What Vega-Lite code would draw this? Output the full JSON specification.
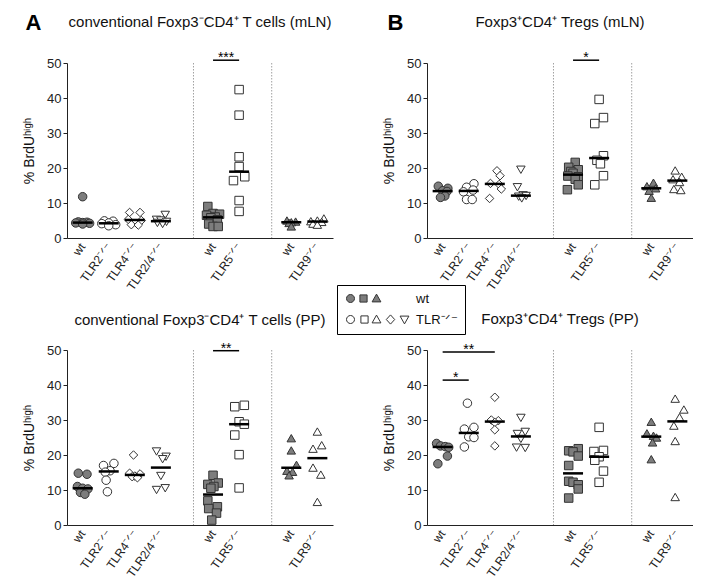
{
"$schema": "https://vega.github.io/schema/vega-lite/v6.json",
"background": "white",
"padding": {"left": 22, "top": 11, "right": 0, "bottom": 0},
"config": {
  "font": "Liberation Sans",
  "view": {"stroke": null},
  "title": {"fontSize": 15, "fontWeight": "normal", "color": "#111", "anchor": "middle"},
  "axisY": {"tickCount": 6, "labelOverlap": false, "labelFontSize": 13, "labelColor": "#222", "tickSize": 4, "tickColor": "#222", "domainColor": "#222", "labelPadding": 2, "grid": false}
},
"datasets": {
  "seps": [{"g": "gap1"}, {"g": "gap2"}],
  "sig": [
    {"p": "A", "from": "wt2", "to": "TLR5", "y": 50.8, "lab": "***"},
    {"p": "B", "from": "wt2", "to": "TLR5", "y": 50.8, "lab": "*"},
    {"p": "C", "from": "wt2", "to": "TLR5", "y": 49.8, "lab": "**"},
    {"p": "D", "from": "wt1", "to": "TLR2", "y": 41.4, "lab": "*"},
    {"p": "D", "from": "wt1", "to": "TLR4", "y": 49.4, "lab": "**"}
  ],
  "pts": [
    {"p":"A","g":"wt1","gt":"wt","v":11.8,"j":0},{"p":"A","g":"wt1","gt":"wt","v":4.6,"j":-1},{"p":"A","g":"wt1","gt":"wt","v":4.5,"j":1},{"p":"A","g":"wt1","gt":"wt","v":4.4,"j":0},{"p":"A","g":"wt1","gt":"wt","v":4.3,"j":-1.6},{"p":"A","g":"wt1","gt":"wt","v":4.2,"j":1.6},{"p":"A","g":"wt1","gt":"wt","v":4.0,"j":0},
    {"p":"A","g":"TLR2","gt":"TLR","v":4.9,"j":-1},{"p":"A","g":"TLR2","gt":"TLR","v":4.8,"j":1},{"p":"A","g":"TLR2","gt":"TLR","v":4.3,"j":0},{"p":"A","g":"TLR2","gt":"TLR","v":4.1,"j":-1.6},{"p":"A","g":"TLR2","gt":"TLR","v":3.8,"j":1.6},{"p":"A","g":"TLR2","gt":"TLR","v":3.5,"j":0},
    {"p":"A","g":"TLR4","gt":"TLR","v":7.3,"j":-1.2},{"p":"A","g":"TLR4","gt":"TLR","v":7.3,"j":1.2},{"p":"A","g":"TLR4","gt":"TLR","v":5.3,"j":-1.5},{"p":"A","g":"TLR4","gt":"TLR","v":5.0,"j":1.5},{"p":"A","g":"TLR4","gt":"TLR","v":3.8,"j":-0.8},{"p":"A","g":"TLR4","gt":"TLR","v":3.7,"j":0.8},
    {"p":"A","g":"TLR24","gt":"TLR","v":6.6,"j":1},{"p":"A","g":"TLR24","gt":"TLR","v":5.2,"j":-1},{"p":"A","g":"TLR24","gt":"TLR","v":5.0,"j":0},{"p":"A","g":"TLR24","gt":"TLR","v":4.6,"j":1.3},{"p":"A","g":"TLR24","gt":"TLR","v":4.3,"j":-0.8},{"p":"A","g":"TLR24","gt":"TLR","v":4.0,"j":0.4},
    {"p":"A","g":"wt2","gt":"wt","v":9.0,"j":-1.2},{"p":"A","g":"wt2","gt":"wt","v":7.0,"j":0},{"p":"A","g":"wt2","gt":"wt","v":6.8,"j":1.5},{"p":"A","g":"wt2","gt":"wt","v":6.5,"j":-1.5},{"p":"A","g":"wt2","gt":"wt","v":6.0,"j":0.5},{"p":"A","g":"wt2","gt":"wt","v":5.8,"j":-0.5},{"p":"A","g":"wt2","gt":"wt","v":5.2,"j":1},{"p":"A","g":"wt2","gt":"wt","v":4.0,"j":-1},{"p":"A","g":"wt2","gt":"wt","v":3.3,"j":0},{"p":"A","g":"wt2","gt":"wt","v":3.3,"j":1.2},
    {"p":"A","g":"TLR5","gt":"TLR","v":42.4,"j":0},{"p":"A","g":"TLR5","gt":"TLR","v":35.1,"j":0},{"p":"A","g":"TLR5","gt":"TLR","v":23.2,"j":0},{"p":"A","g":"TLR5","gt":"TLR","v":20.4,"j":0},{"p":"A","g":"TLR5","gt":"TLR","v":17.5,"j":1.3},{"p":"A","g":"TLR5","gt":"TLR","v":16.4,"j":-1.3},{"p":"A","g":"TLR5","gt":"TLR","v":10.7,"j":0},{"p":"A","g":"TLR5","gt":"TLR","v":7.6,"j":0},
    {"p":"A","g":"wt3","gt":"wt","v":5.0,"j":-1},{"p":"A","g":"wt3","gt":"wt","v":4.7,"j":1},{"p":"A","g":"wt3","gt":"wt","v":4.5,"j":0},{"p":"A","g":"wt3","gt":"wt","v":4.3,"j":-0.5},{"p":"A","g":"wt3","gt":"wt","v":3.3,"j":0},
    {"p":"A","g":"TLR9","gt":"TLR","v":5.6,"j":1.5},{"p":"A","g":"TLR9","gt":"TLR","v":5.0,"j":0},{"p":"A","g":"TLR9","gt":"TLR","v":4.8,"j":-1.5},{"p":"A","g":"TLR9","gt":"TLR","v":4.6,"j":1},{"p":"A","g":"TLR9","gt":"TLR","v":4.1,"j":-1},{"p":"A","g":"TLR9","gt":"TLR","v":3.8,"j":0},

    {"p":"B","g":"wt1","gt":"wt","v":14.8,"j":-1},{"p":"B","g":"wt1","gt":"wt","v":14.2,"j":1.2},{"p":"B","g":"wt1","gt":"wt","v":13.5,"j":0},{"p":"B","g":"wt1","gt":"wt","v":13.3,"j":1},{"p":"B","g":"wt1","gt":"wt","v":12.0,"j":0.5},{"p":"B","g":"wt1","gt":"wt","v":11.6,"j":-0.5},
    {"p":"B","g":"TLR2","gt":"TLR","v":15.5,"j":1.2},{"p":"B","g":"TLR2","gt":"TLR","v":14.5,"j":-0.5},{"p":"B","g":"TLR2","gt":"TLR","v":13.7,"j":1},{"p":"B","g":"TLR2","gt":"TLR","v":13.2,"j":-1.2},{"p":"B","g":"TLR2","gt":"TLR","v":11.0,"j":-0.5},{"p":"B","g":"TLR2","gt":"TLR","v":11.0,"j":0.8},
    {"p":"B","g":"TLR4","gt":"TLR","v":19.2,"j":0.5},{"p":"B","g":"TLR4","gt":"TLR","v":17.8,"j":1.2},{"p":"B","g":"TLR4","gt":"TLR","v":15.6,"j":-1},{"p":"B","g":"TLR4","gt":"TLR","v":15.3,"j":1},{"p":"B","g":"TLR4","gt":"TLR","v":14.0,"j":1.5},{"p":"B","g":"TLR4","gt":"TLR","v":11.3,"j":-1.2},
    {"p":"B","g":"TLR24","gt":"TLR","v":19.5,"j":0},{"p":"B","g":"TLR24","gt":"TLR","v":14.5,"j":-0.8},{"p":"B","g":"TLR24","gt":"TLR","v":12.2,"j":0.5},{"p":"B","g":"TLR24","gt":"TLR","v":12.0,"j":1.2},{"p":"B","g":"TLR24","gt":"TLR","v":11.8,"j":-0.5},{"p":"B","g":"TLR24","gt":"TLR","v":11.3,"j":0.2},
    {"p":"B","g":"wt2","gt":"wt","v":21.6,"j":0.5},{"p":"B","g":"wt2","gt":"wt","v":20.2,"j":-1},{"p":"B","g":"wt2","gt":"wt","v":19.5,"j":1.2},{"p":"B","g":"wt2","gt":"wt","v":19.0,"j":-0.5},{"p":"B","g":"wt2","gt":"wt","v":18.5,"j":0},{"p":"B","g":"wt2","gt":"wt","v":17.7,"j":-1.2},{"p":"B","g":"wt2","gt":"wt","v":17.5,"j":1.2},{"p":"B","g":"wt2","gt":"wt","v":16.8,"j":0.5},{"p":"B","g":"wt2","gt":"wt","v":15.2,"j":1.2},{"p":"B","g":"wt2","gt":"wt","v":13.8,"j":-1.3},
    {"p":"B","g":"TLR5","gt":"TLR","v":39.6,"j":0},{"p":"B","g":"TLR5","gt":"TLR","v":34.4,"j":1},{"p":"B","g":"TLR5","gt":"TLR","v":32.7,"j":-1},{"p":"B","g":"TLR5","gt":"TLR","v":23.5,"j":1},{"p":"B","g":"TLR5","gt":"TLR","v":22.2,"j":-0.5},{"p":"B","g":"TLR5","gt":"TLR","v":21.2,"j":0.3},{"p":"B","g":"TLR5","gt":"TLR","v":17.8,"j":1},{"p":"B","g":"TLR5","gt":"TLR","v":15.2,"j":-1},
    {"p":"B","g":"wt3","gt":"wt","v":15.8,"j":0.5},{"p":"B","g":"wt3","gt":"wt","v":14.8,"j":-1},{"p":"B","g":"wt3","gt":"wt","v":14.2,"j":1},{"p":"B","g":"wt3","gt":"wt","v":13.5,"j":-0.5},{"p":"B","g":"wt3","gt":"wt","v":11.5,"j":0},
    {"p":"B","g":"TLR9","gt":"TLR","v":19.3,"j":-0.5},{"p":"B","g":"TLR9","gt":"TLR","v":17.5,"j":1},{"p":"B","g":"TLR9","gt":"TLR","v":16.8,"j":-1},{"p":"B","g":"TLR9","gt":"TLR","v":16.0,"j":0.5},{"p":"B","g":"TLR9","gt":"TLR","v":14.0,"j":-0.8},{"p":"B","g":"TLR9","gt":"TLR","v":13.7,"j":0.8},

    {"p":"C","g":"wt1","gt":"wt","v":14.8,"j":-1},{"p":"C","g":"wt1","gt":"wt","v":14.5,"j":1},{"p":"C","g":"wt1","gt":"wt","v":11.0,"j":-1.2},{"p":"C","g":"wt1","gt":"wt","v":10.5,"j":0},{"p":"C","g":"wt1","gt":"wt","v":10.3,"j":1.2},{"p":"C","g":"wt1","gt":"wt","v":9.3,"j":-0.5},{"p":"C","g":"wt1","gt":"wt","v":8.8,"j":0.5},
    {"p":"C","g":"TLR2","gt":"TLR","v":17.6,"j":1.2},{"p":"C","g":"TLR2","gt":"TLR","v":17.0,"j":-1.2},{"p":"C","g":"TLR2","gt":"TLR","v":15.5,"j":0.3},{"p":"C","g":"TLR2","gt":"TLR","v":15.1,"j":-0.8},{"p":"C","g":"TLR2","gt":"TLR","v":12.8,"j":-0.6},{"p":"C","g":"TLR2","gt":"TLR","v":9.5,"j":-0.3},
    {"p":"C","g":"TLR4","gt":"TLR","v":20.0,"j":-0.3},{"p":"C","g":"TLR4","gt":"TLR","v":14.8,"j":-1.2},{"p":"C","g":"TLR4","gt":"TLR","v":14.6,"j":1.2},{"p":"C","g":"TLR4","gt":"TLR","v":14.0,"j":0},{"p":"C","g":"TLR4","gt":"TLR","v":13.8,"j":-0.6},{"p":"C","g":"TLR4","gt":"TLR","v":13.5,"j":0.6},
    {"p":"C","g":"TLR24","gt":"TLR","v":21.0,"j":-1},{"p":"C","g":"TLR24","gt":"TLR","v":19.5,"j":1.2},{"p":"C","g":"TLR24","gt":"TLR","v":18.8,"j":0.4},{"p":"C","g":"TLR24","gt":"TLR","v":14.0,"j":0},{"p":"C","g":"TLR24","gt":"TLR","v":10.5,"j":1},{"p":"C","g":"TLR24","gt":"TLR","v":10.0,"j":-1},
    {"p":"C","g":"wt2","gt":"wt","v":14.2,"j":0},{"p":"C","g":"wt2","gt":"wt","v":12.0,"j":1.2},{"p":"C","g":"wt2","gt":"wt","v":11.6,"j":-1.2},{"p":"C","g":"wt2","gt":"wt","v":11.0,"j":0.2},{"p":"C","g":"wt2","gt":"wt","v":10.5,"j":-0.5},{"p":"C","g":"wt2","gt":"wt","v":6.9,"j":-1.2},{"p":"C","g":"wt2","gt":"wt","v":5.2,"j":1},{"p":"C","g":"wt2","gt":"wt","v":4.7,"j":-1},{"p":"C","g":"wt2","gt":"wt","v":3.4,"j":0.8},{"p":"C","g":"wt2","gt":"wt","v":1.4,"j":-0.3},
    {"p":"C","g":"TLR5","gt":"TLR","v":34.2,"j":1.2},{"p":"C","g":"TLR5","gt":"TLR","v":33.8,"j":-1},{"p":"C","g":"TLR5","gt":"TLR","v":29.5,"j":0},{"p":"C","g":"TLR5","gt":"TLR","v":28.8,"j":1.2},{"p":"C","g":"TLR5","gt":"TLR","v":25.7,"j":-1},{"p":"C","g":"TLR5","gt":"TLR","v":20.1,"j":0},{"p":"C","g":"TLR5","gt":"TLR","v":10.6,"j":0},
    {"p":"C","g":"wt3","gt":"wt","v":24.8,"j":0},{"p":"C","g":"wt3","gt":"wt","v":21.3,"j":0},{"p":"C","g":"wt3","gt":"wt","v":17.2,"j":1.2},{"p":"C","g":"wt3","gt":"wt","v":15.5,"j":-1},{"p":"C","g":"wt3","gt":"wt","v":15.2,"j":0.3},{"p":"C","g":"wt3","gt":"wt","v":14.2,"j":-0.5},
    {"p":"C","g":"TLR9","gt":"TLR","v":26.7,"j":0},{"p":"C","g":"TLR9","gt":"TLR","v":22.8,"j":1},{"p":"C","g":"TLR9","gt":"TLR","v":21.8,"j":-1},{"p":"C","g":"TLR9","gt":"TLR","v":16.4,"j":-1},{"p":"C","g":"TLR9","gt":"TLR","v":14.4,"j":0.8},{"p":"C","g":"TLR9","gt":"TLR","v":6.6,"j":0},

    {"p":"D","g":"wt1","gt":"wt","v":23.3,"j":-1.4},{"p":"D","g":"wt1","gt":"wt","v":22.6,"j":-0.5},{"p":"D","g":"wt1","gt":"wt","v":22.4,"j":0.6},{"p":"D","g":"wt1","gt":"wt","v":22.2,"j":1.4},{"p":"D","g":"wt1","gt":"wt","v":19.7,"j":1.1},{"p":"D","g":"wt1","gt":"wt","v":17.5,"j":-1.1},
    {"p":"D","g":"TLR2","gt":"TLR","v":34.8,"j":-0.3},{"p":"D","g":"TLR2","gt":"TLR","v":27.9,"j":1.2},{"p":"D","g":"TLR2","gt":"TLR","v":27.4,"j":-1},{"p":"D","g":"TLR2","gt":"TLR","v":25.2,"j":0},{"p":"D","g":"TLR2","gt":"TLR","v":25.0,"j":1.2},{"p":"D","g":"TLR2","gt":"TLR","v":22.3,"j":-1},
    {"p":"D","g":"TLR4","gt":"TLR","v":36.5,"j":0},{"p":"D","g":"TLR4","gt":"TLR","v":30.0,"j":-0.8},{"p":"D","g":"TLR4","gt":"TLR","v":29.8,"j":0.8},{"p":"D","g":"TLR4","gt":"TLR","v":29.3,"j":0},{"p":"D","g":"TLR4","gt":"TLR","v":27.2,"j":0},{"p":"D","g":"TLR4","gt":"TLR","v":22.6,"j":0},
    {"p":"D","g":"TLR24","gt":"TLR","v":30.6,"j":0},{"p":"D","g":"TLR24","gt":"TLR","v":26.6,"j":1},{"p":"D","g":"TLR24","gt":"TLR","v":26.0,"j":-0.8},{"p":"D","g":"TLR24","gt":"TLR","v":24.6,"j":0},{"p":"D","g":"TLR24","gt":"TLR","v":22.1,"j":-1},{"p":"D","g":"TLR24","gt":"TLR","v":22.0,"j":1},
    {"p":"D","g":"wt2","gt":"wt","v":21.8,"j":1.2},{"p":"D","g":"wt2","gt":"wt","v":21.2,"j":-1},{"p":"D","g":"wt2","gt":"wt","v":20.9,"j":0},{"p":"D","g":"wt2","gt":"wt","v":19.7,"j":1.2},{"p":"D","g":"wt2","gt":"wt","v":17.0,"j":-1},{"p":"D","g":"wt2","gt":"wt","v":12.5,"j":-1},{"p":"D","g":"wt2","gt":"wt","v":12.2,"j":0},{"p":"D","g":"wt2","gt":"wt","v":11.5,"j":1.2},{"p":"D","g":"wt2","gt":"wt","v":10.3,"j":1.2},{"p":"D","g":"wt2","gt":"wt","v":7.7,"j":-1},
    {"p":"D","g":"TLR5","gt":"TLR","v":27.9,"j":0},{"p":"D","g":"TLR5","gt":"TLR","v":21.3,"j":1},{"p":"D","g":"TLR5","gt":"TLR","v":21.0,"j":-1.2},{"p":"D","g":"TLR5","gt":"TLR","v":19.5,"j":0},{"p":"D","g":"TLR5","gt":"TLR","v":18.5,"j":-1},{"p":"D","g":"TLR5","gt":"TLR","v":15.4,"j":1},{"p":"D","g":"TLR5","gt":"TLR","v":12.2,"j":0},
    {"p":"D","g":"wt3","gt":"wt","v":29.5,"j":0},{"p":"D","g":"wt3","gt":"wt","v":26.2,"j":-1},{"p":"D","g":"wt3","gt":"wt","v":25.5,"j":0.5},{"p":"D","g":"wt3","gt":"wt","v":25.0,"j":1.2},{"p":"D","g":"wt3","gt":"wt","v":23.6,"j":0.3},{"p":"D","g":"wt3","gt":"wt","v":18.8,"j":0},
    {"p":"D","g":"TLR9","gt":"TLR","v":36.1,"j":-0.5},{"p":"D","g":"TLR9","gt":"TLR","v":33.0,"j":1.5},{"p":"D","g":"TLR9","gt":"TLR","v":30.8,"j":0.5},{"p":"D","g":"TLR9","gt":"TLR","v":28.4,"j":-0.8},{"p":"D","g":"TLR9","gt":"TLR","v":24.0,"j":-0.5},{"p":"D","g":"TLR9","gt":"TLR","v":8.0,"j":-0.5}
  ]
},
"columns": 2,
"spacing": {"row": 112, "column": 94},
"bounds": "flush",
"resolve": {"scale": {"fill": "independent", "shape": "independent"}},
"concat": [
  {
    "width": 266, "height": 175,
    "title": {"text": "conventional Foxp3⁻CD4⁺ T cells (mLN)", "offset": -19},
    "layer": [
      {"data": {"name": "seps"}, "mark": {"type": "rule", "color": "#a0a0a0", "strokeDash": [1.5, 1.5], "strokeWidth": 1},
       "encoding": {"x": {"field": "g", "type": "nominal", "bandPosition": 0.75, "scale": {"domain": ["wt1","TLR2","TLR4","TLR24","gap1","wt2","TLR5","gap2","wt3","TLR9"], "paddingInner": 0, "paddingOuter": 0.1},
          "axis": {"orient": "top", "domain": false, "ticks": false, "labels": false, "title": "A", "titleFontSize": 22, "titleFontWeight": "bold", "titleColor": "#000", "titleAnchor": "start", "titleAlign": "left", "titleBaseline": "middle", "titleX": -42, "titleY": -41, "titleAngle": 0}}}},
      {"data": {"name": "pts"}, "transform": [{"filter": "datum.p === 'A'"}],
       "mark": {"type": "point", "filled": true, "size": 72, "stroke": "#333", "strokeWidth": 1, "opacity": 1},
       "encoding": {
         "x": {"field": "g", "type": "nominal", "scale": {"domain": ["wt1","TLR2","TLR4","TLR24","gap1","wt2","TLR5","gap2","wt3","TLR9"], "paddingInner": 0, "paddingOuter": 0.1},
           "axis": {"orient": "bottom", "title": null, "labelAngle": -55, "labelAlign": "right", "labelBaseline": "middle", "ticks": false, "labelPadding": 6, "labelFontSize": 12, "labelColor": "#222", "domainColor": "#222", "labelOverlap": false, "labelBound": false,
             "labelExpr": "datum.value === 'TLR24' ? 'TLR2/4⁻ᐟ⁻' : (slice(datum.value, 0, 2) === 'wt' ? 'wt' : (slice(datum.value, 0, 3) === 'gap' ? '' : datum.value + '⁻ᐟ⁻'))"}},
         "xOffset": {"field": "j", "type": "quantitative", "scale": {"domain": [-3, 3]}},
         "y": {"field": "v", "type": "quantitative", "scale": {"domain": [0, 50], "nice": false},
           "axis": {"title": "% BrdUʰⁱᵍʰ", "values": [0, 10, 20, 30, 40, 50], "labelOverlap": false, "labelFontSize": 13, "titleFontSize": 14, "titleFontWeight": "normal", "titleColor": "#111", "titlePadding": 10}},
         "shape": {"field": "g", "type": "nominal", "legend": null, "scale": {"domain": ["wt1","TLR2","TLR4","TLR24","wt2","TLR5","wt3","TLR9"], "range": ["circle","circle","diamond","triangle-down","square","square","triangle-up","triangle-up"]}},
         "fill": {"field": "gt", "type": "nominal", "scale": {"domain": ["wt", "TLR"], "range": ["#7d7d7d", "#ffffff"]},
           "legend": {"orient": "none", "legendX": 270, "legendY": 222, "title": null, "strokeColor": "#000", "padding": 7, "rowPadding": 6, "labelFontSize": 13, "labelColor": "#111", "labelOffset": 59, "symbolSize": 64, "symbolStrokeColor": "#333", "symbolStrokeWidth": 1,
             "symbolType": {"expr": "datum.value === 'wt' ? 'M-1,0A1,1,0,1,1,1,0A1,1,0,1,1,-1,0ZM2.35,-0.9H4.15V0.9H2.35ZM6.5,-1.1L7.6,0.85L5.4,0.85Z' : 'M-1,0A1,1,0,1,1,1,0A1,1,0,1,1,-1,0ZM2.6,-0.9H4.4V0.9H2.6ZM6.5,-1.1L7.6,0.85L5.4,0.85ZM10,-1.15L11.05,0L10,1.15L8.95,0ZM12.4,-0.85L14.6,-0.85L13.5,1.1Z'"},
             "labelExpr": "datum.value === 'wt' ? 'wt' : 'TLR⁻ᐟ⁻'"}}
       }},
      {"data": {"name": "pts"}, "transform": [{"filter": "datum.p === 'A'"}],
       "mark": {"type": "tick", "color": "#000", "thickness": 2.5, "size": 20, "opacity": 1},
       "encoding": {
         "x": {"field": "g", "type": "nominal", "scale": {"domain": ["wt1","TLR2","TLR4","TLR24","gap1","wt2","TLR5","gap2","wt3","TLR9"], "paddingInner": 0, "paddingOuter": 0.1}, "axis": null},
         "y": {"aggregate": "median", "field": "v", "type": "quantitative"}}},
      {"data": {"name": "sig"}, "transform": [{"filter": "datum.p === 'A'"}],
       "mark": {"type": "rule", "color": "#000", "strokeWidth": 1.5},
       "encoding": {
         "x": {"field": "from", "type": "nominal", "bandPosition": 0.5, "axis": null},
         "x2": {"field": "to", "bandPosition": 0.5},
         "y": {"field": "y", "type": "quantitative"}}},
      {"data": {"name": "sig"}, "transform": [{"filter": "datum.p === 'A'"}],
       "mark": {"type": "text", "fontSize": 14, "baseline": "alphabetic", "dy": 2, "color": "#000"},
       "encoding": {
         "x": {"field": "to", "type": "nominal", "bandPosition": 0, "axis": null},
         "y": {"field": "y", "type": "quantitative"},
         "text": {"field": "lab"}}}
    ]
  },
  {
    "width": 266, "height": 175,
    "title": {"text": "Foxp3⁺CD4⁺ Tregs (mLN)", "offset": -19},
    "layer": [
      {"data": {"name": "seps"}, "mark": {"type": "rule", "color": "#a0a0a0", "strokeDash": [1.5, 1.5], "strokeWidth": 1},
       "encoding": {"x": {"field": "g", "type": "nominal", "bandPosition": 0.75, "scale": {"domain": ["wt1","TLR2","TLR4","TLR24","gap1","wt2","TLR5","gap2","wt3","TLR9"], "paddingInner": 0, "paddingOuter": 0.1},
          "axis": {"orient": "top", "domain": false, "ticks": false, "labels": false, "title": "B", "titleFontSize": 22, "titleFontWeight": "bold", "titleColor": "#000", "titleAnchor": "start", "titleAlign": "left", "titleBaseline": "middle", "titleX": -40, "titleY": -41, "titleAngle": 0}}}},
      {"data": {"name": "pts"}, "transform": [{"filter": "datum.p === 'B'"}],
       "mark": {"type": "point", "filled": true, "size": 72, "stroke": "#333", "strokeWidth": 1, "opacity": 1},
       "encoding": {
         "x": {"field": "g", "type": "nominal", "scale": {"domain": ["wt1","TLR2","TLR4","TLR24","gap1","wt2","TLR5","gap2","wt3","TLR9"], "paddingInner": 0, "paddingOuter": 0.1},
           "axis": {"orient": "bottom", "title": null, "labelAngle": -55, "labelAlign": "right", "labelBaseline": "middle", "ticks": false, "labelPadding": 6, "labelFontSize": 12, "labelColor": "#222", "domainColor": "#222", "labelOverlap": false, "labelBound": false,
             "labelExpr": "datum.value === 'TLR24' ? 'TLR2/4⁻ᐟ⁻' : (slice(datum.value, 0, 2) === 'wt' ? 'wt' : (slice(datum.value, 0, 3) === 'gap' ? '' : datum.value + '⁻ᐟ⁻'))"}},
         "xOffset": {"field": "j", "type": "quantitative", "scale": {"domain": [-3, 3]}},
         "y": {"field": "v", "type": "quantitative", "scale": {"domain": [0, 50], "nice": false},
           "axis": {"title": "% BrdUʰⁱᵍʰ", "values": [0, 10, 20, 30, 40, 50], "labelOverlap": false, "labelFontSize": 13, "titleFontSize": 14, "titleFontWeight": "normal", "titleColor": "#111", "titlePadding": 10}},
         "shape": {"field": "g", "type": "nominal", "legend": null, "scale": {"domain": ["wt1","TLR2","TLR4","TLR24","wt2","TLR5","wt3","TLR9"], "range": ["circle","circle","diamond","triangle-down","square","square","triangle-up","triangle-up"]}},
         "fill": {"field": "gt", "type": "nominal", "legend": null, "scale": {"domain": ["wt", "TLR"], "range": ["#7d7d7d", "#ffffff"]}}
       }},
      {"data": {"name": "pts"}, "transform": [{"filter": "datum.p === 'B'"}],
       "mark": {"type": "tick", "color": "#000", "thickness": 2.5, "size": 20, "opacity": 1},
       "encoding": {
         "x": {"field": "g", "type": "nominal", "scale": {"domain": ["wt1","TLR2","TLR4","TLR24","gap1","wt2","TLR5","gap2","wt3","TLR9"], "paddingInner": 0, "paddingOuter": 0.1}, "axis": null},
         "y": {"aggregate": "median", "field": "v", "type": "quantitative"}}},
      {"data": {"name": "sig"}, "transform": [{"filter": "datum.p === 'B'"}],
       "mark": {"type": "rule", "color": "#000", "strokeWidth": 1.5},
       "encoding": {
         "x": {"field": "from", "type": "nominal", "bandPosition": 0.5, "axis": null},
         "x2": {"field": "to", "bandPosition": 0.5},
         "y": {"field": "y", "type": "quantitative"}}},
      {"data": {"name": "sig"}, "transform": [{"filter": "datum.p === 'B'"}],
       "mark": {"type": "text", "fontSize": 14, "baseline": "alphabetic", "dy": 2, "color": "#000"},
       "encoding": {
         "x": {"field": "to", "type": "nominal", "bandPosition": 0, "axis": null},
         "y": {"field": "y", "type": "quantitative"},
         "text": {"field": "lab"}}}
    ]
  },
  {
    "width": 266, "height": 175,
    "title": {"text": "conventional Foxp3⁻CD4⁺ T cells (PP)", "offset": 14},
    "layer": [
      {"data": {"name": "seps"}, "mark": {"type": "rule", "color": "#a0a0a0", "strokeDash": [1.5, 1.5], "strokeWidth": 1},
       "encoding": {"x": {"field": "g", "type": "nominal", "bandPosition": 0.75, "scale": {"domain": ["wt1","TLR2","TLR4","TLR24","gap1","wt2","TLR5","gap2","wt3","TLR9"], "paddingInner": 0, "paddingOuter": 0.1}}}},
      {"data": {"name": "pts"}, "transform": [{"filter": "datum.p === 'C'"}],
       "mark": {"type": "point", "filled": true, "size": 72, "stroke": "#333", "strokeWidth": 1, "opacity": 1},
       "encoding": {
         "x": {"field": "g", "type": "nominal", "scale": {"domain": ["wt1","TLR2","TLR4","TLR24","gap1","wt2","TLR5","gap2","wt3","TLR9"], "paddingInner": 0, "paddingOuter": 0.1},
           "axis": {"orient": "bottom", "title": null, "labelAngle": -55, "labelAlign": "right", "labelBaseline": "middle", "ticks": false, "labelPadding": 6, "labelFontSize": 12, "labelColor": "#222", "domainColor": "#222", "labelOverlap": false, "labelBound": false,
             "labelExpr": "datum.value === 'TLR24' ? 'TLR2/4⁻ᐟ⁻' : (slice(datum.value, 0, 2) === 'wt' ? 'wt' : (slice(datum.value, 0, 3) === 'gap' ? '' : datum.value + '⁻ᐟ⁻'))"}},
         "xOffset": {"field": "j", "type": "quantitative", "scale": {"domain": [-3, 3]}},
         "y": {"field": "v", "type": "quantitative", "scale": {"domain": [0, 50], "nice": false},
           "axis": {"title": "% BrdUʰⁱᵍʰ", "values": [0, 10, 20, 30, 40, 50], "labelOverlap": false, "labelFontSize": 13, "titleFontSize": 14, "titleFontWeight": "normal", "titleColor": "#111", "titlePadding": 10}},
         "shape": {"field": "g", "type": "nominal", "legend": null, "scale": {"domain": ["wt1","TLR2","TLR4","TLR24","wt2","TLR5","wt3","TLR9"], "range": ["circle","circle","diamond","triangle-down","square","square","triangle-up","triangle-up"]}},
         "fill": {"field": "gt", "type": "nominal", "legend": null, "scale": {"domain": ["wt", "TLR"], "range": ["#7d7d7d", "#ffffff"]}}
       }},
      {"data": {"name": "pts"}, "transform": [{"filter": "datum.p === 'C'"}],
       "mark": {"type": "tick", "color": "#000", "thickness": 2.5, "size": 20, "opacity": 1},
       "encoding": {
         "x": {"field": "g", "type": "nominal", "scale": {"domain": ["wt1","TLR2","TLR4","TLR24","gap1","wt2","TLR5","gap2","wt3","TLR9"], "paddingInner": 0, "paddingOuter": 0.1}},
         "y": {"aggregate": "median", "field": "v", "type": "quantitative"}}},
      {"data": {"name": "sig"}, "transform": [{"filter": "datum.p === 'C'"}],
       "mark": {"type": "rule", "color": "#000", "strokeWidth": 1.5},
       "encoding": {
         "x": {"field": "from", "type": "nominal", "bandPosition": 0.5},
         "x2": {"field": "to", "bandPosition": 0.5},
         "y": {"field": "y", "type": "quantitative"}}},
      {"data": {"name": "sig"}, "transform": [{"filter": "datum.p === 'C'"}],
       "mark": {"type": "text", "fontSize": 14, "baseline": "alphabetic", "dy": 2, "color": "#000"},
       "encoding": {
         "x": {"field": "to", "type": "nominal", "bandPosition": 0},
         "y": {"field": "y", "type": "quantitative"},
         "text": {"field": "lab"}}}
    ]
  },
  {
    "width": 266, "height": 175,
    "title": {"text": "Foxp3⁺CD4⁺ Tregs (PP)", "offset": 16},
    "layer": [
      {"data": {"name": "seps"}, "mark": {"type": "rule", "color": "#a0a0a0", "strokeDash": [1.5, 1.5], "strokeWidth": 1},
       "encoding": {"x": {"field": "g", "type": "nominal", "bandPosition": 0.75, "scale": {"domain": ["wt1","TLR2","TLR4","TLR24","gap1","wt2","TLR5","gap2","wt3","TLR9"], "paddingInner": 0, "paddingOuter": 0.1}}}},
      {"data": {"name": "pts"}, "transform": [{"filter": "datum.p === 'D'"}],
       "mark": {"type": "point", "filled": true, "size": 72, "stroke": "#333", "strokeWidth": 1, "opacity": 1},
       "encoding": {
         "x": {"field": "g", "type": "nominal", "scale": {"domain": ["wt1","TLR2","TLR4","TLR24","gap1","wt2","TLR5","gap2","wt3","TLR9"], "paddingInner": 0, "paddingOuter": 0.1},
           "axis": {"orient": "bottom", "title": null, "labelAngle": -55, "labelAlign": "right", "labelBaseline": "middle", "ticks": false, "labelPadding": 6, "labelFontSize": 12, "labelColor": "#222", "domainColor": "#222", "labelOverlap": false, "labelBound": false,
             "labelExpr": "datum.value === 'TLR24' ? 'TLR2/4⁻ᐟ⁻' : (slice(datum.value, 0, 2) === 'wt' ? 'wt' : (slice(datum.value, 0, 3) === 'gap' ? '' : datum.value + '⁻ᐟ⁻'))"}},
         "xOffset": {"field": "j", "type": "quantitative", "scale": {"domain": [-3, 3]}},
         "y": {"field": "v", "type": "quantitative", "scale": {"domain": [0, 50], "nice": false},
           "axis": {"title": "% BrdUʰⁱᵍʰ", "values": [0, 10, 20, 30, 40, 50], "labelOverlap": false, "labelFontSize": 13, "titleFontSize": 14, "titleFontWeight": "normal", "titleColor": "#111", "titlePadding": 10}},
         "shape": {"field": "g", "type": "nominal", "legend": null, "scale": {"domain": ["wt1","TLR2","TLR4","TLR24","wt2","TLR5","wt3","TLR9"], "range": ["circle","circle","diamond","triangle-down","square","square","triangle-up","triangle-up"]}},
         "fill": {"field": "gt", "type": "nominal", "legend": null, "scale": {"domain": ["wt", "TLR"], "range": ["#7d7d7d", "#ffffff"]}}
       }},
      {"data": {"name": "pts"}, "transform": [{"filter": "datum.p === 'D'"}],
       "mark": {"type": "tick", "color": "#000", "thickness": 2.5, "size": 20, "opacity": 1},
       "encoding": {
         "x": {"field": "g", "type": "nominal", "scale": {"domain": ["wt1","TLR2","TLR4","TLR24","gap1","wt2","TLR5","gap2","wt3","TLR9"], "paddingInner": 0, "paddingOuter": 0.1}},
         "y": {"aggregate": "median", "field": "v", "type": "quantitative"}}},
      {"data": {"name": "sig"}, "transform": [{"filter": "datum.p === 'D'"}],
       "mark": {"type": "rule", "color": "#000", "strokeWidth": 1.5},
       "encoding": {
         "x": {"field": "from", "type": "nominal", "bandPosition": 0.5},
         "x2": {"field": "to", "bandPosition": 0.5},
         "y": {"field": "y", "type": "quantitative"}}},
      {"data": {"name": "sig"}, "transform": [{"filter": "datum.p === 'D' && datum.to === 'TLR2'"}],
       "mark": {"type": "text", "fontSize": 14, "baseline": "alphabetic", "dy": 2, "color": "#000"},
       "encoding": {
         "x": {"field": "to", "type": "nominal", "bandPosition": 0},
         "y": {"field": "y", "type": "quantitative"},
         "text": {"field": "lab"}}},
      {"data": {"name": "sig"}, "transform": [{"filter": "datum.p === 'D' && datum.to === 'TLR4'"}],
       "mark": {"type": "text", "fontSize": 14, "baseline": "alphabetic", "dy": 2, "color": "#000"},
       "encoding": {
         "x": {"field": "to", "type": "nominal", "bandPosition": -0.5},
         "y": {"field": "y", "type": "quantitative"},
         "text": {"field": "lab"}}}
    ]
  }
]
}
